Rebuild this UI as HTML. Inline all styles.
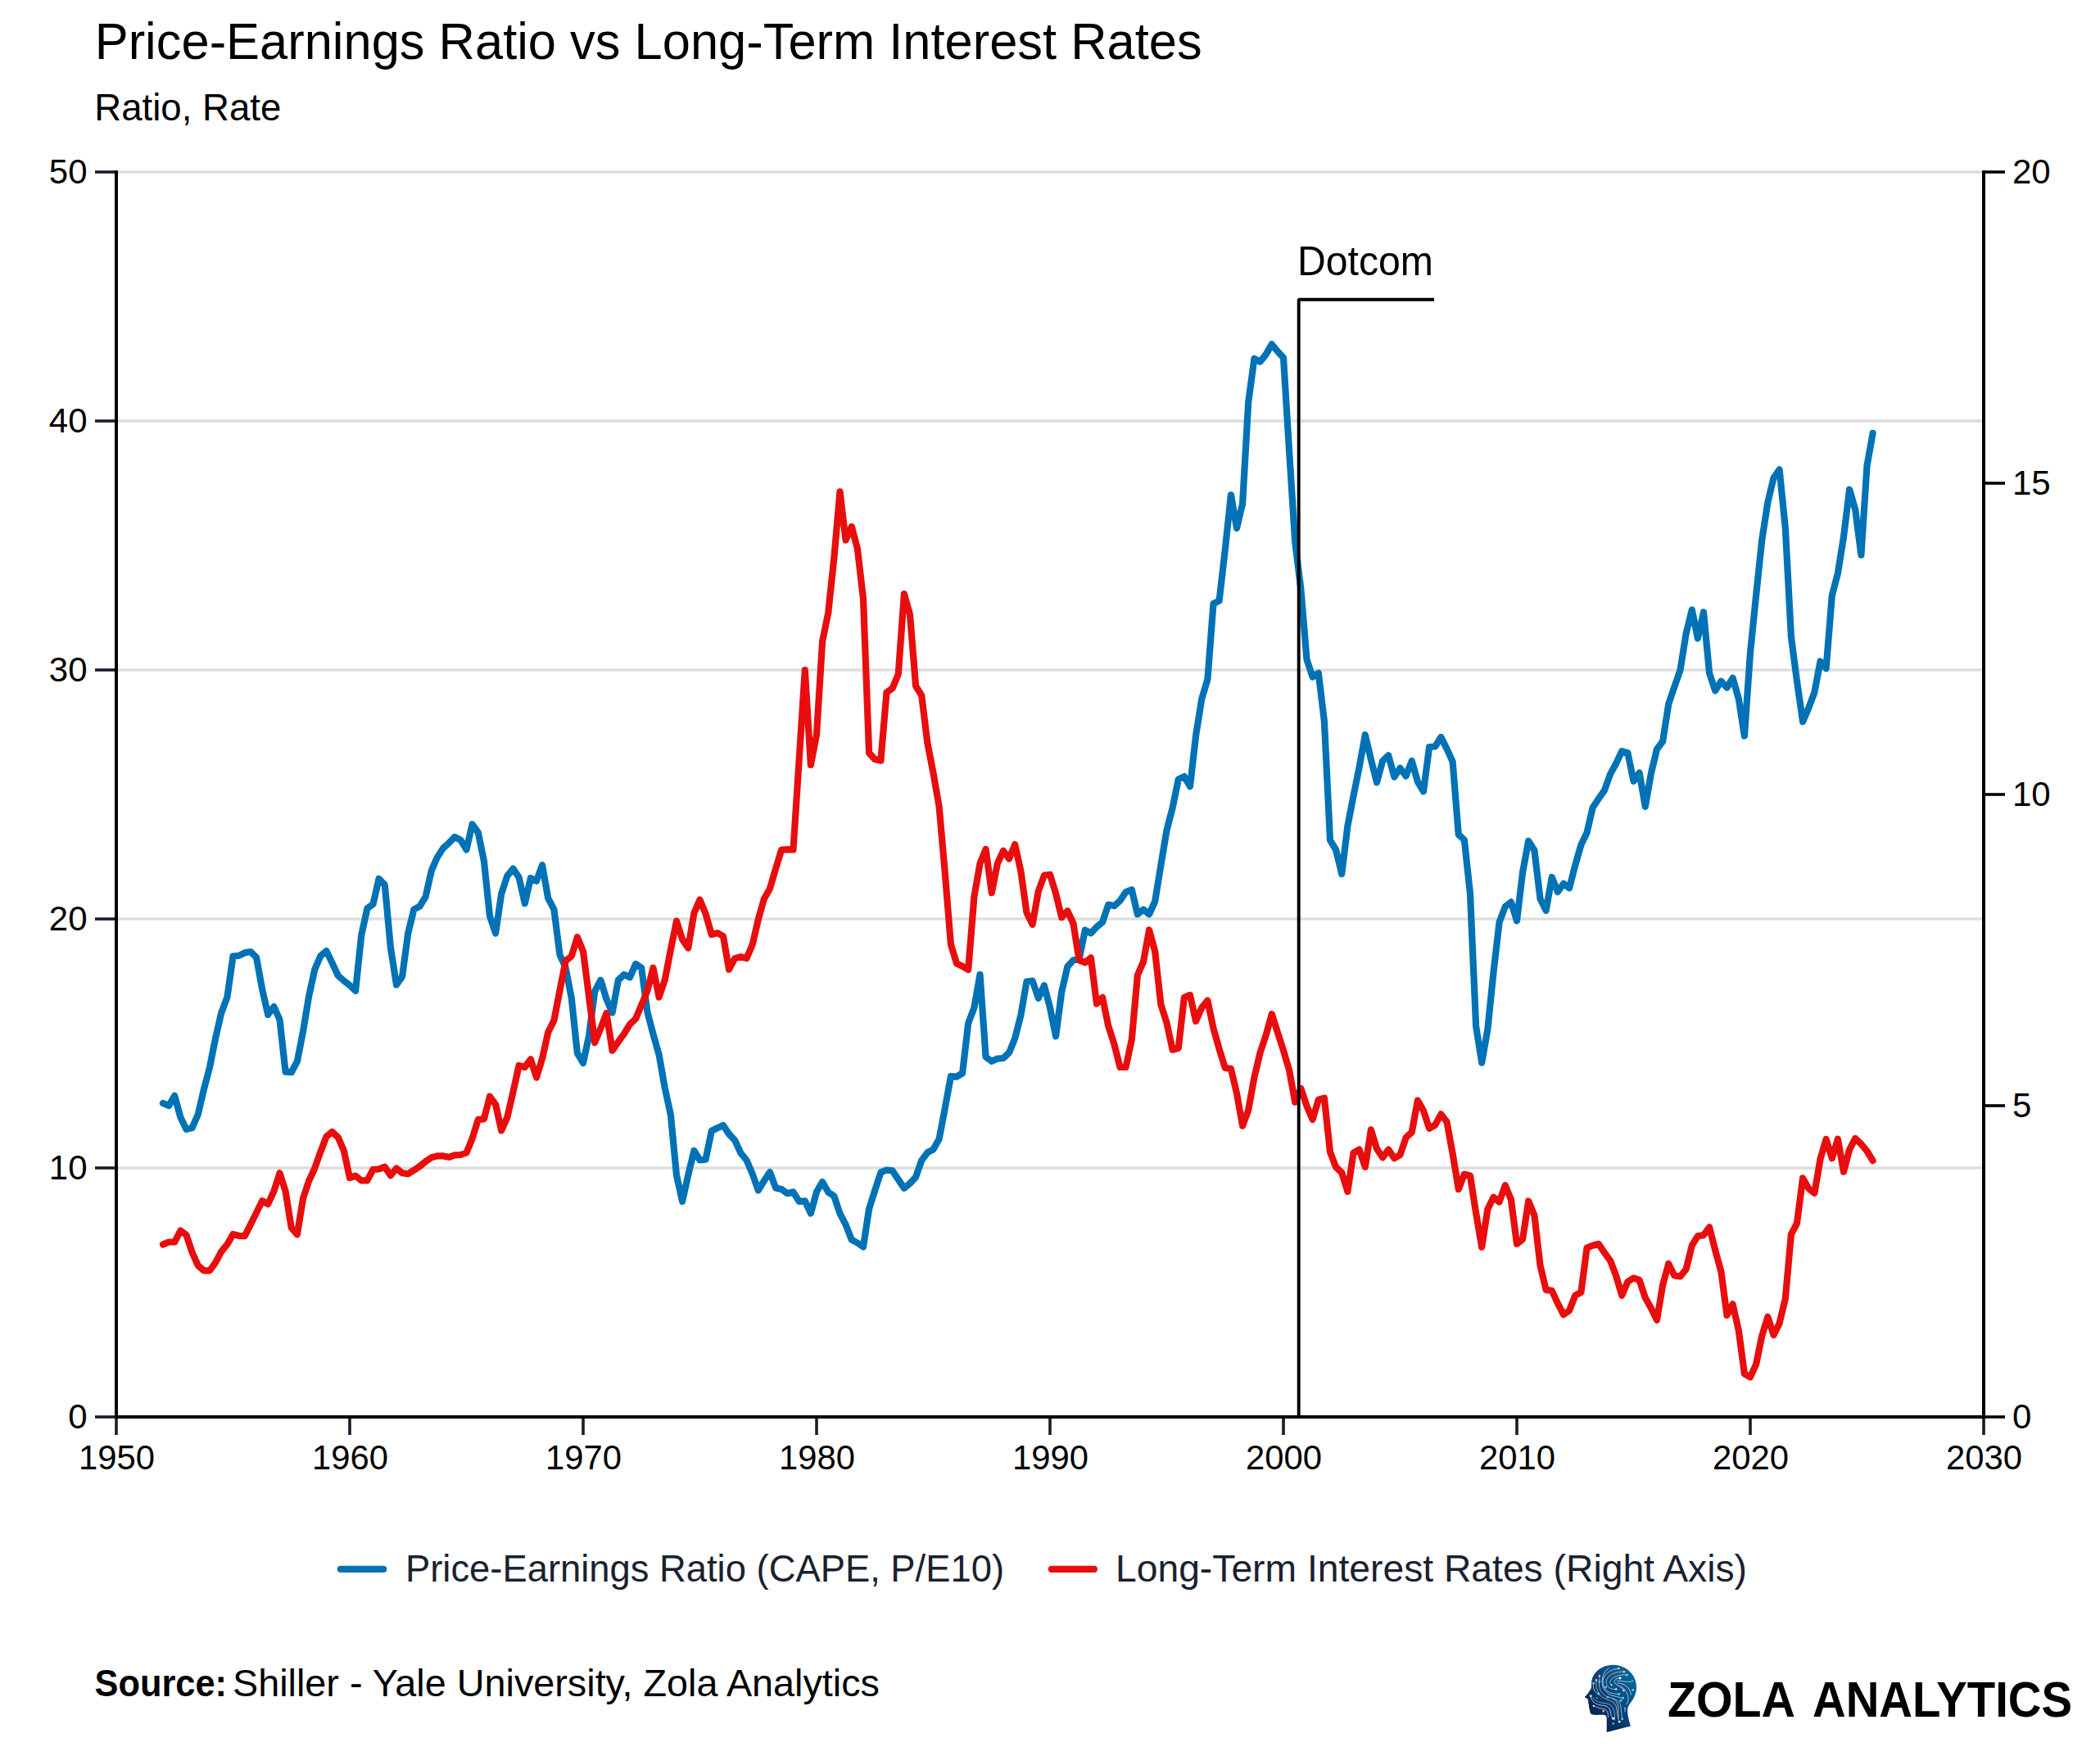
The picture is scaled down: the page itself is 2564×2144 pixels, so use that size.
<!DOCTYPE html>
<html lang="en"><head><meta charset="utf-8"><title>Price-Earnings Ratio vs Long-Term Interest Rates</title>
<style>html,body{margin:0;padding:0;background:#fff}body{width:2564px;height:2144px;overflow:hidden}svg{display:block}text{font-family:"Liberation Sans", sans-serif}</style></head><body>
<svg width="2564" height="2144" viewBox="0 0 2564 2144">
<defs><linearGradient id="hg" gradientUnits="userSpaceOnUse" x1="330" y1="950" x2="860" y2="560"><stop offset="0" stop-color="#0a1d4d"/><stop offset="0.55" stop-color="#0b4a82"/><stop offset="1" stop-color="#0b6a9e"/></linearGradient></defs>
<rect width="2564" height="2144" fill="#fff"/>
<text id="title" x="115.7" y="71.7" font-size="63" fill="#000" textLength="1352" lengthAdjust="spacingAndGlyphs">Price-Earnings Ratio vs Long-Term Interest Rates</text>
<text id="sub" x="115.3" y="146.7" font-size="47" fill="#000" textLength="228" lengthAdjust="spacingAndGlyphs">Ratio, Rate</text>
<line x1="142" x2="2422" y1="1426.0" y2="1426.0" stroke="#dedede" stroke-width="3.6"/>
<line x1="142" x2="2422" y1="1122.0" y2="1122.0" stroke="#dedede" stroke-width="3.6"/>
<line x1="142" x2="2422" y1="818.0" y2="818.0" stroke="#dedede" stroke-width="3.6"/>
<line x1="142" x2="2422" y1="514.0" y2="514.0" stroke="#dedede" stroke-width="3.6"/>
<line x1="142" x2="2422" y1="210.0" y2="210.0" stroke="#dedede" stroke-width="3.6"/>
<path id="blue" d="M199.0,1347.0 L206.1,1350.1 L213.2,1337.9 L220.4,1364.3 L227.5,1378.9 L234.6,1377.0 L241.8,1360.6 L248.9,1330.0 L256.0,1303.2 L263.1,1267.7 L270.2,1236.7 L277.4,1217.6 L284.5,1167.5 L291.6,1166.9 L298.8,1163.3 L305.9,1162.0 L313.0,1168.9 L320.1,1207.6 L327.2,1238.9 L334.4,1229.1 L341.5,1244.9 L348.6,1308.7 L355.8,1309.2 L362.9,1295.9 L370.0,1259.5 L377.1,1216.7 L384.2,1183.9 L391.4,1167.1 L398.5,1161.1 L405.6,1175.7 L412.8,1191.2 L419.9,1197.5 L427.0,1203.0 L434.1,1209.7 L441.2,1142.2 L448.4,1109.1 L455.5,1104.0 L462.6,1073.0 L469.8,1080.3 L476.9,1156.8 L484.0,1202.4 L491.1,1192.3 L498.2,1139.5 L505.4,1110.3 L512.5,1106.7 L519.6,1094.9 L526.8,1063.0 L533.9,1046.6 L541.0,1035.6 L548.1,1029.2 L555.2,1022.0 L562.4,1025.6 L569.5,1037.4 L576.6,1006.5 L583.8,1016.5 L590.9,1051.1 L598.0,1118.5 L605.1,1139.5 L612.2,1091.2 L619.4,1069.3 L626.5,1060.6 L633.6,1071.2 L640.8,1103.1 L647.9,1072.1 L655.0,1075.7 L662.1,1056.2 L669.2,1096.7 L676.4,1110.3 L683.5,1165.9 L690.6,1181.4 L697.8,1218.8 L704.9,1285.9 L712.0,1297.9 L719.1,1264.6 L726.2,1210.3 L733.4,1196.8 L740.5,1220.0 L747.6,1236.5 L754.8,1196.8 L761.9,1190.0 L769.0,1193.3 L776.1,1177.0 L783.2,1181.7 L790.4,1235.5 L797.5,1262.6 L804.6,1287.8 L811.8,1328.5 L818.9,1361.4 L826.0,1434.9 L833.1,1466.9 L840.2,1434.9 L847.4,1404.9 L854.5,1416.5 L861.6,1415.6 L868.8,1380.7 L875.9,1377.2 L883.0,1374.0 L890.1,1384.6 L897.2,1392.3 L904.4,1407.8 L911.5,1416.5 L918.6,1433.0 L925.8,1453.3 L932.9,1441.7 L940.0,1431.1 L947.1,1450.4 L954.2,1452.0 L961.4,1457.2 L968.5,1455.3 L975.6,1466.9 L982.8,1466.3 L989.9,1481.4 L997.0,1455.3 L1004.1,1443.0 L1011.2,1455.6 L1018.4,1460.4 L1025.5,1481.7 L1032.6,1495.3 L1039.8,1513.7 L1046.9,1517.5 L1054.0,1522.4 L1061.1,1475.9 L1068.2,1453.6 L1075.4,1431.4 L1082.5,1428.5 L1089.6,1429.4 L1096.8,1440.1 L1103.9,1450.7 L1111.0,1444.9 L1118.1,1437.2 L1125.2,1416.9 L1132.4,1407.2 L1139.5,1403.3 L1146.6,1390.7 L1153.8,1353.0 L1160.9,1314.2 L1168.0,1314.6 L1175.1,1310.4 L1182.2,1249.4 L1189.4,1230.4 L1196.5,1189.8 L1203.6,1290.5 L1210.8,1295.8 L1217.9,1292.6 L1225.0,1292.0 L1232.1,1285.2 L1239.2,1267.8 L1246.4,1239.4 L1253.5,1198.5 L1260.6,1197.5 L1267.8,1218.8 L1274.9,1203.3 L1282.0,1230.4 L1289.1,1265.3 L1296.2,1211.1 L1303.4,1180.1 L1310.5,1172.3 L1317.6,1171.4 L1324.8,1135.6 L1331.9,1139.4 L1339.0,1131.7 L1346.1,1125.9 L1353.2,1104.6 L1360.4,1106.1 L1367.5,1099.7 L1374.6,1089.1 L1381.8,1086.2 L1388.9,1116.2 L1396.0,1110.4 L1403.1,1116.2 L1410.2,1100.7 L1417.4,1056.2 L1424.5,1013.6 L1431.6,986.5 L1438.8,951.4 L1445.9,948.1 L1453.0,960.1 L1460.1,898.1 L1467.2,853.6 L1474.4,829.4 L1481.5,737.0 L1488.6,733.6 L1495.8,671.1 L1502.9,604.3 L1510.0,644.9 L1517.1,614.9 L1524.2,491.0 L1531.4,437.8 L1538.5,441.6 L1545.6,432.9 L1552.8,420.3 L1559.9,429.0 L1567.0,436.8 L1574.1,551.0 L1581.2,661.4 L1588.4,720.0 L1595.5,805.2 L1602.6,826.5 L1609.8,821.7 L1616.9,880.7 L1624.0,1025.9 L1631.1,1037.5 L1638.2,1067.0 L1645.4,1008.5 L1652.5,971.7 L1659.6,936.9 L1666.8,897.2 L1673.9,927.2 L1681.0,955.3 L1688.1,929.1 L1695.2,922.3 L1702.4,948.5 L1709.5,937.8 L1716.6,947.5 L1723.8,929.1 L1730.9,954.3 L1738.0,966.3 L1745.1,912.0 L1752.2,911.5 L1759.4,900.0 L1766.5,914.4 L1773.6,929.9 L1780.8,1019.1 L1787.9,1025.6 L1795.0,1091.3 L1802.1,1252.8 L1809.2,1297.5 L1816.4,1256.4 L1823.5,1187.0 L1830.6,1126.0 L1837.8,1106.9 L1844.9,1101.4 L1852.0,1124.3 L1859.1,1065.0 L1866.2,1026.8 L1873.4,1038.2 L1880.5,1097.3 L1887.6,1111.7 L1894.8,1071.0 L1901.9,1089.0 L1909.0,1078.9 L1916.1,1084.2 L1923.2,1056.7 L1930.4,1031.5 L1937.5,1016.7 L1944.6,986.1 L1951.8,975.3 L1958.9,965.1 L1966.0,945.4 L1973.1,932.3 L1980.2,917.2 L1987.4,919.1 L1994.5,953.8 L2001.6,943.5 L2008.8,984.9 L2015.9,944.2 L2023.0,914.8 L2030.1,905.3 L2037.2,859.8 L2044.4,838.5 L2051.5,818.2 L2058.6,773.6 L2065.8,744.6 L2072.9,779.4 L2080.0,747.5 L2087.1,822.0 L2094.2,843.3 L2101.4,831.7 L2108.5,839.5 L2115.6,827.8 L2122.8,853.0 L2129.9,898.5 L2137.0,796.9 L2144.1,727.2 L2151.2,659.5 L2158.4,613.1 L2165.5,583.6 L2172.6,573.3 L2179.8,644.3 L2186.9,777.5 L2194.0,831.7 L2201.1,881.1 L2208.2,864.6 L2215.4,845.3 L2222.5,807.5 L2229.6,816.2 L2236.8,727.2 L2243.9,700.0 L2251.0,655.5 L2258.1,597.7 L2265.2,622.1 L2272.4,677.7 L2279.5,568.8 L2286.6,528.9" fill="none" stroke="#0072b5" stroke-width="8.2" stroke-linejoin="round" stroke-linecap="round"/>
<path id="red" d="M199.0,1519.4 L206.1,1516.5 L213.2,1516.5 L220.4,1502.6 L227.5,1507.8 L234.6,1529.1 L241.8,1545.2 L248.9,1551.4 L256.0,1551.4 L263.1,1541.7 L270.2,1528.2 L277.4,1519.4 L284.5,1506.9 L291.6,1508.8 L298.8,1509.2 L305.9,1495.2 L313.0,1480.7 L320.1,1466.2 L327.2,1470.1 L334.4,1454.6 L341.5,1432.3 L348.6,1454.6 L355.8,1499.1 L362.9,1507.2 L370.0,1463.3 L377.1,1442.0 L384.2,1426.5 L391.4,1406.2 L398.5,1387.8 L405.6,1382.0 L412.8,1388.7 L419.9,1405.2 L427.0,1438.1 L434.1,1435.6 L441.2,1441.4 L448.4,1441.4 L455.5,1427.9 L462.6,1427.5 L469.8,1424.6 L476.9,1435.2 L484.0,1426.5 L491.1,1432.2 L498.2,1433.3 L505.4,1428.8 L512.5,1424.0 L519.6,1418.2 L526.8,1413.3 L533.9,1411.4 L541.0,1411.4 L548.1,1412.8 L555.2,1410.4 L562.4,1410.0 L569.5,1407.5 L576.6,1390.1 L583.8,1366.9 L590.9,1366.3 L598.0,1338.8 L605.1,1348.5 L612.2,1380.4 L619.4,1364.0 L626.5,1333.0 L633.6,1301.0 L640.8,1303.0 L647.9,1293.3 L655.0,1315.6 L662.1,1292.3 L669.2,1260.4 L676.4,1245.9 L683.5,1209.1 L690.6,1173.2 L697.8,1167.4 L704.9,1144.2 L712.0,1161.6 L719.1,1216.8 L726.2,1273.0 L733.4,1255.5 L740.5,1237.1 L747.6,1282.6 L754.8,1272.0 L761.9,1262.3 L769.0,1250.7 L776.1,1243.9 L783.2,1227.2 L790.4,1209.8 L797.5,1181.7 L804.6,1217.5 L811.8,1196.2 L818.9,1159.5 L826.0,1124.6 L833.1,1146.9 L840.2,1157.5 L847.4,1114.9 L854.5,1098.5 L861.6,1115.9 L868.8,1141.1 L875.9,1139.1 L883.0,1143.0 L890.1,1183.7 L897.2,1170.1 L904.4,1168.2 L911.5,1170.1 L918.6,1153.6 L925.8,1122.7 L932.9,1097.5 L940.0,1084.9 L947.1,1060.7 L954.2,1037.5 L961.4,1037.1 L968.5,1037.5 L975.6,929.0 L982.8,818.2 L989.9,934.0 L997.0,897.0 L1004.1,783.3 L1011.2,748.5 L1018.4,680.7 L1025.5,600.3 L1032.6,659.4 L1039.8,642.9 L1046.9,670.0 L1054.0,731.0 L1061.1,919.4 L1068.2,927.1 L1075.4,928.7 L1082.5,845.3 L1089.6,840.4 L1096.8,823.0 L1103.9,725.2 L1111.0,750.4 L1118.1,837.5 L1125.2,849.1 L1132.4,907.2 L1139.5,943.9 L1146.6,984.6 L1153.8,1065.9 L1160.9,1153.0 L1168.0,1176.2 L1175.1,1179.7 L1182.2,1184.0 L1189.4,1094.9 L1196.5,1054.3 L1203.6,1036.8 L1210.8,1090.1 L1217.9,1054.3 L1225.0,1038.8 L1232.1,1048.5 L1239.2,1031.0 L1246.4,1063.9 L1253.5,1114.3 L1260.6,1128.8 L1267.8,1088.1 L1274.9,1068.8 L1282.0,1067.8 L1289.1,1091.0 L1296.2,1120.1 L1303.4,1112.3 L1310.5,1127.8 L1317.6,1172.4 L1324.8,1175.3 L1331.9,1169.4 L1339.0,1225.5 L1346.1,1217.8 L1353.2,1252.6 L1360.4,1274.9 L1367.5,1303.0 L1374.6,1303.0 L1381.8,1269.1 L1388.9,1190.7 L1396.0,1174.2 L1403.1,1135.5 L1410.2,1161.6 L1417.4,1226.5 L1424.5,1248.8 L1431.6,1281.7 L1438.8,1279.7 L1445.9,1217.8 L1453.0,1214.9 L1460.1,1246.8 L1467.2,1230.4 L1474.4,1221.7 L1481.5,1255.5 L1488.6,1280.7 L1495.8,1303.9 L1502.9,1304.9 L1510.0,1334.9 L1517.1,1374.6 L1524.2,1355.3 L1531.4,1315.6 L1538.5,1285.5 L1545.6,1264.2 L1552.8,1238.1 L1559.9,1260.4 L1567.0,1282.6 L1574.1,1306.8 L1581.2,1345.6 L1588.4,1329.1 L1595.5,1350.4 L1602.6,1366.9 L1609.8,1342.7 L1616.9,1340.7 L1624.0,1406.6 L1631.1,1425.0 L1638.2,1431.7 L1645.4,1454.9 L1652.5,1407.5 L1659.6,1403.6 L1666.8,1424.9 L1673.9,1379.4 L1681.0,1402.6 L1688.1,1413.3 L1695.2,1403.6 L1702.4,1414.2 L1709.5,1410.0 L1716.6,1389.1 L1723.8,1382.3 L1730.9,1343.6 L1738.0,1356.2 L1745.1,1377.8 L1752.2,1373.6 L1759.4,1360.4 L1766.5,1369.7 L1773.6,1408.4 L1780.8,1452.0 L1787.9,1433.6 L1795.0,1435.5 L1802.1,1481.0 L1809.2,1522.7 L1816.4,1476.2 L1823.5,1461.7 L1830.6,1467.5 L1837.8,1447.2 L1844.9,1464.6 L1852.0,1518.8 L1859.1,1513.0 L1866.2,1466.5 L1873.4,1483.9 L1880.5,1544.9 L1887.6,1574.9 L1894.8,1575.9 L1901.9,1591.4 L1909.0,1605.0 L1916.1,1600.1 L1923.2,1581.7 L1930.4,1577.8 L1937.5,1523.6 L1944.6,1520.7 L1951.8,1518.8 L1958.9,1529.4 L1966.0,1539.1 L1973.1,1557.5 L1980.2,1581.7 L1987.4,1564.9 L1994.5,1560.4 L2001.6,1562.9 L2008.8,1584.6 L2015.9,1597.2 L2023.0,1611.7 L2030.1,1569.1 L2037.2,1543.0 L2044.4,1557.5 L2051.5,1558.5 L2058.6,1549.7 L2065.8,1520.7 L2072.9,1509.1 L2080.0,1508.1 L2087.1,1498.4 L2094.2,1526.5 L2101.4,1552.7 L2108.5,1605.9 L2115.6,1592.3 L2122.8,1624.3 L2129.9,1677.5 L2137.0,1681.4 L2144.1,1665.9 L2151.2,1631.1 L2158.4,1607.8 L2165.5,1630.1 L2172.6,1615.6 L2179.8,1585.6 L2186.9,1507.2 L2194.0,1493.6 L2201.1,1438.4 L2208.2,1451.0 L2215.4,1456.8 L2222.5,1415.2 L2229.6,1391.0 L2236.8,1414.2 L2243.9,1390.6 L2251.0,1430.7 L2258.1,1403.6 L2265.2,1390.0 L2272.4,1396.8 L2279.5,1405.5 L2286.6,1417.1" fill="none" stroke="#e80e0e" stroke-width="8.2" stroke-linejoin="round" stroke-linecap="round"/>
<path d="M1585.7,1730 L1585.7,365.7 L1751,365.7" fill="none" stroke="#000" stroke-width="3.9" stroke-linejoin="bevel"/>
<text id="dot" x="1584" y="336.2" font-size="50" fill="#000" textLength="166" lengthAdjust="spacingAndGlyphs">Dotcom</text>
<line x1="116" x2="142" y1="1730.0" y2="1730.0" stroke="#171c2b" stroke-width="3.6"/>
<text class="yl" x="106.5" y="1743.8" font-size="42" text-anchor="end" fill="#000">0</text>
<line x1="116" x2="142" y1="1426.0" y2="1426.0" stroke="#171c2b" stroke-width="3.6"/>
<text class="yl" x="106.5" y="1439.8" font-size="42" text-anchor="end" fill="#000">10</text>
<line x1="116" x2="142" y1="1122.0" y2="1122.0" stroke="#171c2b" stroke-width="3.6"/>
<text class="yl" x="106.5" y="1135.8" font-size="42" text-anchor="end" fill="#000">20</text>
<line x1="116" x2="142" y1="818.0" y2="818.0" stroke="#171c2b" stroke-width="3.6"/>
<text class="yl" x="106.5" y="831.8" font-size="42" text-anchor="end" fill="#000">30</text>
<line x1="116" x2="142" y1="514.0" y2="514.0" stroke="#171c2b" stroke-width="3.6"/>
<text class="yl" x="106.5" y="527.8" font-size="42" text-anchor="end" fill="#000">40</text>
<line x1="116" x2="142" y1="210.0" y2="210.0" stroke="#171c2b" stroke-width="3.6"/>
<text class="yl" x="106.5" y="223.8" font-size="42" text-anchor="end" fill="#000">50</text>
<line x1="2422" x2="2448" y1="1730.0" y2="1730.0" stroke="#000" stroke-width="3.6"/>
<text class="yr" x="2457" y="1743.8" font-size="42" fill="#000">0</text>
<line x1="2422" x2="2448" y1="1350.0" y2="1350.0" stroke="#000" stroke-width="3.6"/>
<text class="yr" x="2457" y="1363.8" font-size="42" fill="#000">5</text>
<line x1="2422" x2="2448" y1="970.0" y2="970.0" stroke="#000" stroke-width="3.6"/>
<text class="yr" x="2457" y="983.8" font-size="42" fill="#000">10</text>
<line x1="2422" x2="2448" y1="590.0" y2="590.0" stroke="#000" stroke-width="3.6"/>
<text class="yr" x="2457" y="603.8" font-size="42" fill="#000">15</text>
<line x1="2422" x2="2448" y1="210.0" y2="210.0" stroke="#000" stroke-width="3.6"/>
<text class="yr" x="2457" y="223.8" font-size="42" fill="#000">20</text>
<line x1="142" x2="142" y1="1730" y2="1752" stroke="#171c2b" stroke-width="3.6"/>
<text class="xl" x="142.5" y="1794" font-size="42" text-anchor="middle" fill="#000" textLength="93" lengthAdjust="spacingAndGlyphs">1950</text>
<line x1="427" x2="427" y1="1730" y2="1752" stroke="#171c2b" stroke-width="3.6"/>
<text class="xl" x="427.5" y="1794" font-size="42" text-anchor="middle" fill="#000" textLength="93" lengthAdjust="spacingAndGlyphs">1960</text>
<line x1="712" x2="712" y1="1730" y2="1752" stroke="#171c2b" stroke-width="3.6"/>
<text class="xl" x="712.5" y="1794" font-size="42" text-anchor="middle" fill="#000" textLength="93" lengthAdjust="spacingAndGlyphs">1970</text>
<line x1="997" x2="997" y1="1730" y2="1752" stroke="#171c2b" stroke-width="3.6"/>
<text class="xl" x="997.5" y="1794" font-size="42" text-anchor="middle" fill="#000" textLength="93" lengthAdjust="spacingAndGlyphs">1980</text>
<line x1="1282" x2="1282" y1="1730" y2="1752" stroke="#171c2b" stroke-width="3.6"/>
<text class="xl" x="1282.5" y="1794" font-size="42" text-anchor="middle" fill="#000" textLength="93" lengthAdjust="spacingAndGlyphs">1990</text>
<line x1="1567" x2="1567" y1="1730" y2="1752" stroke="#171c2b" stroke-width="3.6"/>
<text class="xl" x="1567.5" y="1794" font-size="42" text-anchor="middle" fill="#000" textLength="93" lengthAdjust="spacingAndGlyphs">2000</text>
<line x1="1852" x2="1852" y1="1730" y2="1752" stroke="#171c2b" stroke-width="3.6"/>
<text class="xl" x="1852.5" y="1794" font-size="42" text-anchor="middle" fill="#000" textLength="93" lengthAdjust="spacingAndGlyphs">2010</text>
<line x1="2137" x2="2137" y1="1730" y2="1752" stroke="#171c2b" stroke-width="3.6"/>
<text class="xl" x="2137.5" y="1794" font-size="42" text-anchor="middle" fill="#000" textLength="93" lengthAdjust="spacingAndGlyphs">2020</text>
<line x1="2422" x2="2422" y1="1730" y2="1752" stroke="#171c2b" stroke-width="3.6"/>
<text class="xl" x="2422.5" y="1794" font-size="42" text-anchor="middle" fill="#000" textLength="93" lengthAdjust="spacingAndGlyphs">2030</text>
<path d="M142,208.2 L142,1730 L2422,1730 L2422,208.2" fill="none" stroke="#000" stroke-width="4"/>
<line x1="415.9" x2="468.1" y1="1915.9" y2="1915.9" stroke="#0072b5" stroke-width="8.2" stroke-linecap="round"/>
<text id="lg1" x="495" y="1931.4" font-size="47" fill="#1a2130" textLength="731" lengthAdjust="spacingAndGlyphs">Price-Earnings Ratio (CAPE, P/E10)</text>
<line x1="1283.9" x2="1335.9" y1="1915.9" y2="1915.9" stroke="#e80e0e" stroke-width="8.2" stroke-linecap="round"/>
<text id="lg2" x="1362" y="1931.4" font-size="47" fill="#1a2130" textLength="771" lengthAdjust="spacingAndGlyphs">Long-Term Interest Rates (Right Axis)</text>
<text id="src1" x="115.5" y="2071.4" font-size="47" font-weight="bold" fill="#000" textLength="161.5" lengthAdjust="spacingAndGlyphs">Source:</text>
<text id="src2" x="284" y="2071.4" font-size="47" fill="#000" textLength="790" lengthAdjust="spacingAndGlyphs">Shiller - Yale University, Zola Analytics</text>
<text id="z1" x="2036" y="2096" font-size="62" font-weight="bold" fill="#000" textLength="156" lengthAdjust="spacingAndGlyphs">ZOLA</text>
<text id="z2" x="2213" y="2096" font-size="62" font-weight="bold" fill="#000" textLength="317" lengthAdjust="spacingAndGlyphs">ANALYTICS</text>
<g id="logo" transform="translate(1900,1980) scale(0.1142857)">
<path d="M540,1182 L795,1115 C780,1060 765,1010 762,960 C760,920 775,890 800,860 C835,815 858,760 858,700 C858,570 750,462 610,462 C490,462 385,540 378,650 C376,680 380,700 372,715 L340,765 C325,785 305,800 306,808 C308,818 330,818 338,826 C342,834 336,846 344,852 C350,858 340,866 342,872 C346,880 354,884 350,892 C346,902 352,920 358,940 C362,960 362,975 372,985 C385,997 420,998 460,996 L515,996 C535,1000 540,1020 540,1045 Z" fill="url(#hg)"/>
<path d="M670,500 C600,505 530,540 503,610 C490,680 520,735 580,760 C620,772 650,773 670,775" fill="none" stroke="#dff6fb" stroke-width="6.5" stroke-linecap="round" opacity="0.95"/>
<path d="M725,535 C650,530 570,555 538,620 C525,680 560,712 600,720 L640,722" fill="none" stroke="#f3d9c8" stroke-width="6.5" stroke-linecap="round" opacity="0.95"/>
<path d="M755,570 C690,560 610,580 578,630 C570,660 580,672 592,676" fill="none" stroke="#bfeef7" stroke-width="6.5" stroke-linecap="round" opacity="0.95"/>
<path d="M683,603 C645,600 612,625 628,655 C650,685 700,690 722,735" fill="none" stroke="#ffffff" stroke-width="6.5" stroke-linecap="round" opacity="0.95"/>
<path d="M650,632 C720,628 790,660 815,633" fill="none" stroke="#bfeef7" stroke-width="6.5" stroke-linecap="round" opacity="0.95"/>
<path d="M655,655 C730,660 790,700 800,780" fill="none" stroke="#dff6fb" stroke-width="6.5" stroke-linecap="round" opacity="0.95"/>
<path d="M690,690 C740,720 775,770 770,850 L748,885" fill="none" stroke="#bfeef7" stroke-width="6.5" stroke-linecap="round" opacity="0.95"/>
<path d="M560,500 C510,530 480,600 495,680 C500,720 540,770 600,790 C660,800 700,820 712,815" fill="none" stroke="#dff6fb" stroke-width="6.5" stroke-linecap="round" opacity="0.95"/>
<path d="M460,650 C455,720 480,770 550,805 C620,820 680,840 690,900 L705,1040" fill="none" stroke="#bfeef7" stroke-width="6.5" stroke-linecap="round" opacity="0.95"/>
<path d="M428,625 C420,700 440,770 500,810 C560,840 620,850 640,900 C655,960 650,1020 675,1070" fill="none" stroke="#f3c9b0" stroke-width="6.5" stroke-linecap="round" opacity="0.95"/>
<path d="M398,658 C392,720 410,760 455,772" fill="none" stroke="#dff6fb" stroke-width="6.5" stroke-linecap="round" opacity="0.95"/>
<path d="M370,795 C380,860 430,890 500,895 C570,900 585,950 585,1000 L610,1035" fill="none" stroke="#ffffff" stroke-width="6.5" stroke-linecap="round" opacity="0.95"/>
<path d="M395,812 C420,850 470,870 530,872 C600,880 625,940 625,1000 L625,1050" fill="none" stroke="#7fe3f2" stroke-width="6.5" stroke-linecap="round" opacity="0.95"/>
<path d="M400,900 C440,925 500,925 530,940 C555,960 555,990 555,1020" fill="none" stroke="#dff6fb" stroke-width="6.5" stroke-linecap="round" opacity="0.95"/>
<path d="M600,820 C650,840 665,880 665,940 L665,1030" fill="none" stroke="#bfeef7" stroke-width="6.5" stroke-linecap="round" opacity="0.95"/>
<path d="M735,925 L735,960" fill="none" stroke="#bfeef7" stroke-width="6.5" stroke-linecap="round" opacity="0.95"/>
<path d="M462,580 L462,640" fill="none" stroke="#f3c9b0" stroke-width="6.5" stroke-linecap="round" opacity="0.95"/>
<circle cx="670" cy="500" r="9" fill="#ffffff"/>
<circle cx="725" cy="535" r="12" fill="#f4b89a"/>
<circle cx="755" cy="570" r="13" fill="#35e0f2"/>
<circle cx="683" cy="603" r="13" fill="#ffffff"/>
<circle cx="815" cy="633" r="8" fill="#35e0f2"/>
<circle cx="820" cy="730" r="13" fill="#35e0f2"/>
<circle cx="722" cy="735" r="13" fill="#f4b89a"/>
<circle cx="640" cy="722" r="10" fill="#ffffff"/>
<circle cx="592" cy="676" r="12" fill="#35e0f2"/>
<circle cx="670" cy="775" r="13" fill="#35e0f2"/>
<circle cx="712" cy="815" r="13" fill="#35e0f2"/>
<circle cx="690" cy="845" r="13" fill="#35e0f2"/>
<circle cx="550" cy="805" r="12" fill="#35e0f2"/>
<circle cx="530" cy="700" r="13" fill="#35e0f2"/>
<circle cx="455" cy="772" r="13" fill="#35e0f2"/>
<circle cx="435" cy="815" r="8" fill="#35e0f2"/>
<circle cx="370" cy="795" r="13" fill="#9fefff"/>
<circle cx="398" cy="658" r="12" fill="#35e0f2"/>
<circle cx="428" cy="625" r="12" fill="#f4b89a"/>
<circle cx="462" cy="580" r="11" fill="#f4b89a"/>
<circle cx="462" cy="642" r="12" fill="#35e0f2"/>
<circle cx="400" cy="900" r="10" fill="#ffffff"/>
<circle cx="505" cy="955" r="12" fill="#f4a080"/>
<circle cx="610" cy="1035" r="13" fill="#ffffff"/>
<circle cx="675" cy="1070" r="13" fill="#f4c8a8"/>
<circle cx="705" cy="1040" r="13" fill="#35e0f2"/>
<circle cx="610" cy="1090" r="11" fill="#35e0f2"/>
<circle cx="735" cy="925" r="9" fill="#35e0f2"/>
</g>
</svg></body></html>
